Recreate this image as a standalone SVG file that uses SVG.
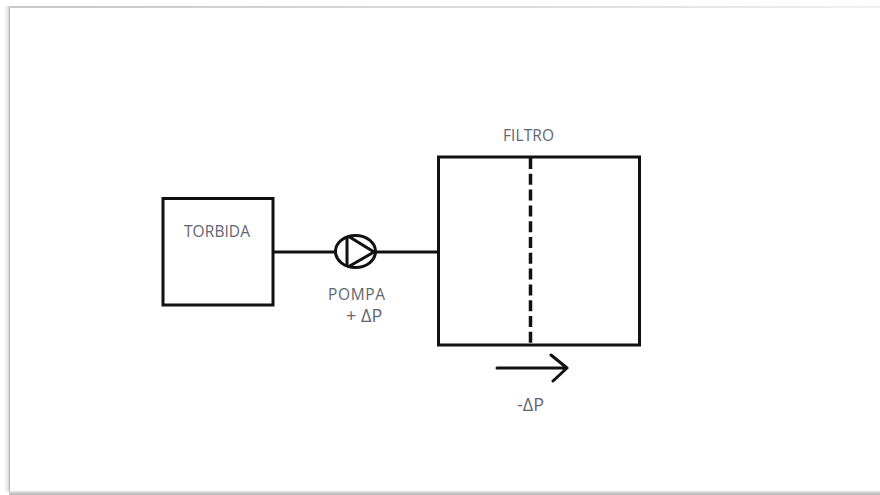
<svg xmlns="http://www.w3.org/2000/svg" width="880" height="495" viewBox="0 0 880 495">
<defs>
<linearGradient id="l" x1="0" x2="1" y1="0" y2="0"><stop offset="0" stop-color="#fff"/><stop offset="0.7" stop-color="#e4e4e4"/><stop offset="1" stop-color="#a8a8a8"/></linearGradient>
<linearGradient id="b" x1="0" x2="0" y1="0" y2="1"><stop offset="0" stop-color="#e8e8e8"/><stop offset="1" stop-color="#b4b4b4"/></linearGradient>
<linearGradient id="t" x1="0" x2="1" y1="0" y2="0"><stop offset="0" stop-color="#c8c8c8"/><stop offset="0.7" stop-color="#e0e0e0"/><stop offset="1" stop-color="#f0f0f0"/></linearGradient>
</defs>
<style>
.s{fill:none;stroke:#111;stroke-width:3}
.t{font-family:"Open Sans","Liberation Sans",sans-serif;font-size:15.500px;fill:#5f6670}
.d{font-size:18px}
</style>
<rect width="880" height="495" fill="#fff"/>
<g id="frame">
<rect x="4" y="6" width="6" height="486" fill="url(#l)"/>
<rect x="9" y="6" width="871" height="2" fill="url(#t)"/>
<rect x="9" y="491" width="871" height="4" fill="url(#b)"/>
</g>
<g id="connectors">
<path class="s" d="M273 252H335M376 252H438"/>
<path class="s" d="M497 368H566M551 355L567 368L553 381" stroke-linecap="round" stroke-linejoin="round"/>
</g>
<g id="torbida">
<rect class="s" x="163" y="198.500" width="110" height="106.500"/>
<text class="t" x="184" y="237" textLength="66">TORBIDA</text>
</g>
<g id="pompa">
<ellipse class="s" cx="355.500" cy="251.500" rx="20" ry="16"/>
<path class="s" d="M347 236V267M348 236L374 252L348 267"/>
<text class="t" x="328" y="300" textLength="57">POMPA</text>
<text class="t d" x="346" y="322">+<tspan x="361"> </tspan><tspan x="361">ΔP</tspan></text>
</g>
<g id="filtro">
<rect class="s" x="438.500" y="157" width="201" height="188"/>
<path class="s" style="stroke-width:3.500" d="M530.500 158V345" stroke-dasharray="11 4.800"/>
<text class="t" x="503" y="141" textLength="51">FILTRO</text>
</g>
<g id="delta">
<text class="t d" x="517" y="411">-ΔP</text>
</g>
</svg>
